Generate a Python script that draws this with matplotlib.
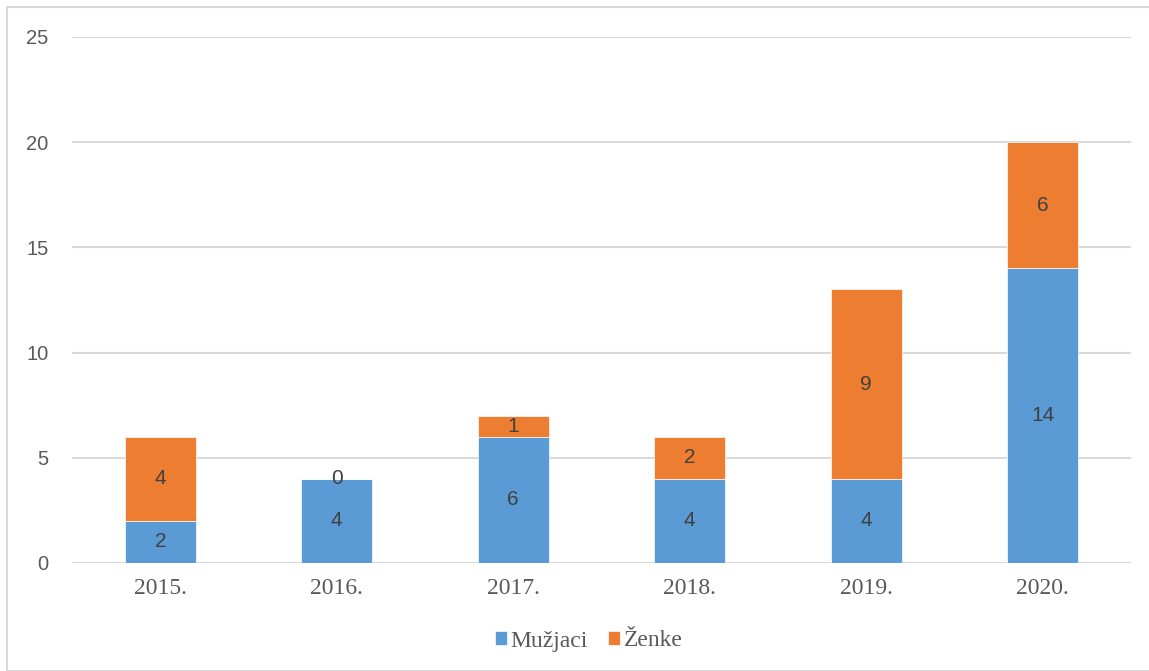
import matplotlib
matplotlib.use("Agg")
import matplotlib.pyplot as plt
from matplotlib.patches import Rectangle

years = ["2015.", "2016.", "2017.", "2018.", "2019.", "2020."]
muzjaci = [2, 4, 6, 4, 4, 14]
zenke = [4, 0, 1, 2, 9, 6]
yticks = [0, 5, 10, 15, 20, 25]

blue = "#5B9BD5"
orange = "#ED7D31"
label_color = "#404040"

fig = plt.figure(figsize=(11.49, 6.71), dpi=100)
ax = fig.add_axes([72/1149, 1 - 563/671, (1131-72)/1149, (563-37)/671])

x = list(range(len(years)))
w = 0.40
b1 = ax.bar(x, muzjaci, width=w, color=blue, label="Mužjaci", zorder=3,
            edgecolor="white", linewidth=0.5)
b2 = ax.bar(x, zenke, width=w, bottom=muzjaci, color=orange, label="Ženke", zorder=3,
            edgecolor="white", linewidth=0.5)

for i in x:
    ax.text(i, muzjaci[i] / 2, str(muzjaci[i]), ha="center", va="center",
            fontsize=15, color=label_color, family="Liberation Sans", zorder=4)
    ax.text(i, muzjaci[i] + zenke[i] / 2, str(zenke[i]), ha="center", va="center",
            fontsize=15, color=label_color, family="Liberation Sans", zorder=4)

ax.set_xlim(-0.5, len(years) - 0.5)
ax.set_ylim(0, 25)
ax.set_yticks(yticks)
ax.set_yticklabels([str(t) for t in yticks], family="Liberation Sans", fontsize=14.5, color="#595959")
ax.set_xticks(x)
ax.set_xticklabels(years, family="Liberation Serif", fontsize=17, color="#595959")
ax.tick_params(axis="y", length=0, pad=17)
ax.tick_params(axis="x", length=0, pad=11)
ax.grid(axis="y", color="#D9D9D9", linewidth=1.5, zorder=0)
for s in ax.spines.values():
    s.set_visible(False)

leg = fig.legend(handles=[b1, b2], loc="center", bbox_to_anchor=(589/1149, 1 - 641/671),
                 ncol=2, frameon=False, prop={"family": "Liberation Serif", "size": 17},
                 handlelength=0.5, handleheight=0.5, handletextpad=0.15, columnspacing=0.85)
for t in leg.get_texts():
    t.set_color("#595959")

fig.patches.append(Rectangle((7/1149, 0), 1.5, 1 - 7/671, transform=fig.transFigure,
                             fill=False, edgecolor="#D9D9D9", linewidth=1.5))

fig.savefig("out.png", dpi=100)
